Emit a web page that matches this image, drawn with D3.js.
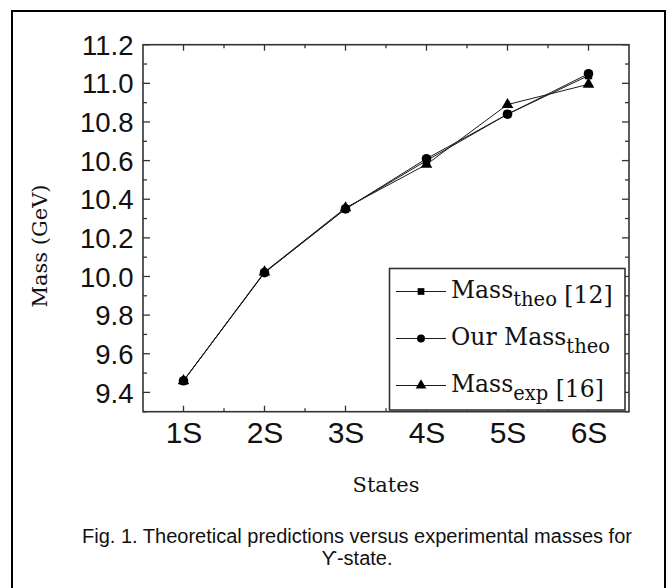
<!DOCTYPE html>
<html lang="en">
<head>
  <meta charset="UTF-8" />
  <title>Upsilon masses</title>
  <script src="https://cdn.jsdelivr.net/npm/d3@7"></script>
  <style>
    body { margin: 0; background: #fff; }
    svg text { fill: #111; }
  </style>
</head>
<body>
  <div id="chart"></div>
  <script>
    // States and masses (GeV)
    const states = ["1S", "2S", "3S", "4S", "5S", "6S"];
    const massTheo12 = [9.46, 10.02, 10.35, 10.60, 10.84, 11.04];
    const ourMassTheo = [9.46, 10.02, 10.35, 10.61, 10.84, 11.05];
    const massExp16 = [9.46, 10.023, 10.355, 10.58, 10.89, 10.995];
    const yTicks = [9.4, 9.6, 9.8, 10.0, 10.2, 10.4, 10.6, 10.8, 11.0, 11.2];

    const W = 668, H = 588;
    const svg = d3.select("#chart").append("svg")
      .attr("width", W).attr("height", H);

    // outer figure box
    svg.append("rect")
      .attr("x", 12).attr("y", 11).attr("width", 653).attr("height", 620)
      .attr("fill", "none").attr("stroke", "#000").attr("stroke-width", 2);

    const x = d3.scaleLinear().domain([0.5, 6.5]).range([143, 629]);
    const y = d3.scaleLinear().domain([9.3, 11.2]).range([411.7, 44.7]);
    const [x0, x1] = x.range();
    const [y0, y1] = y.range();

    const g = svg.append("g");

    // ticks on all four sides, pointing inward
    const xMajor = d3.range(1, 7);
    const xMinor = d3.range(1.5, 6, 1);
    const yMinor = d3.range(9.3, 11.2, 0.2).map(v => +v.toFixed(1));
    const tickG = g.append("g").attr("stroke", "#333").attr("stroke-width", 1.3);
    const addX = (vals, len) => vals.forEach(v => {
      tickG.append("line").attr("x1", x(v)).attr("x2", x(v)).attr("y1", y0).attr("y2", y0 - len);
      tickG.append("line").attr("x1", x(v)).attr("x2", x(v)).attr("y1", y1).attr("y2", y1 + len);
    });
    const addY = (vals, len) => vals.forEach(v => {
      tickG.append("line").attr("y1", y(v)).attr("y2", y(v)).attr("x1", x0).attr("x2", x0 + len);
      tickG.append("line").attr("y1", y(v)).attr("y2", y(v)).attr("x1", x1).attr("x2", x1 - len);
    });
    addX(xMajor, 6); addX(xMinor, 3.5);
    addY(yTicks, 7); addY(yMinor, 4);

    // tick labels via d3 axes (lines hidden, we draw our own)
    const xAxis = g.append("g")
      .attr("transform", `translate(0,${y0})`)
      .call(d3.axisBottom(x).tickValues(xMajor).tickFormat(d => states[d - 1]).tickSize(0).tickPadding(0));
    xAxis.select(".domain").remove();
    xAxis.selectAll("text")
      .attr("y", 31).attr("dy", null)
      .style("font-family", "'Liberation Sans', Arial, sans-serif")
      .style("font-size", "30px").attr("fill", "#111");

    const yAxis = g.append("g")
      .attr("transform", `translate(${x0},0)`)
      .call(d3.axisLeft(y).tickValues(yTicks).tickFormat(d3.format(".1f")).tickSize(0).tickPadding(9.5));
    yAxis.select(".domain").remove();
    yAxis.selectAll("text")
      .attr("dy", "0.35em")
      .style("font-family", "'Liberation Sans', Arial, sans-serif")
      .style("font-size", "27.5px").attr("fill", "#111");

    // series
    const series = [
      { name: "theo12", vals: massTheo12, shape: d3.symbolSquare, size: 55 },
      { name: "our", vals: ourMassTheo, shape: d3.symbolCircle, size: 72 },
      { name: "exp16", vals: massExp16, shape: d3.symbolTriangle, size: 58 }
    ];
    const line = d3.line().x((d, i) => x(i + 1)).y(d => y(d));
    series.forEach(s => {
      g.append("path").datum(s.vals)
        .attr("d", line).attr("fill", "none")
        .attr("stroke", "#1a1a1a").attr("stroke-width", 1);
      g.selectAll(null).data(s.vals).join("path")
        .attr("transform", (d, i) => `translate(${x(i + 1)},${y(d)})`)
        .attr("d", d3.symbol().type(s.shape).size(s.size))
        .attr("fill", "#000");
    });

    // frame
    g.append("rect")
      .attr("x", x0).attr("y", y1).attr("width", x1 - x0).attr("height", y0 - y1)
      .attr("fill", "none").attr("stroke", "#333").attr("stroke-width", 1.6);

    // legend
    const lg = svg.append("g");
    lg.append("rect")
      .attr("x", 389.5).attr("y", 268.5).attr("width", 235.5).attr("height", 141.5)
      .attr("fill", "#fff").attr("stroke", "#333").attr("stroke-width", 1.6);
    const legendRows = [
      { shape: d3.symbolSquare, size: 45, main: "Mass", sub: "theo", tail: " [12]" },
      { shape: d3.symbolCircle, size: 50, main: "Our Mass", sub: "theo", tail: "" },
      { shape: d3.symbolTriangle, size: 50, main: "Mass", sub: "exp", tail: " [16]" }
    ];
    legendRows.forEach((r, i) => {
      const cy = 291.5 + i * 47;
      lg.append("line").attr("x1", 396).attr("x2", 446).attr("y1", cy).attr("y2", cy)
        .attr("stroke", "#1a1a1a").attr("stroke-width", 1);
      lg.append("path").attr("transform", `translate(421,${cy})`)
        .attr("d", d3.symbol().type(r.shape).size(r.size)).attr("fill", "#000");
      const t = lg.append("text").attr("x", 451).attr("y", cy + 6)
        .style("font-family", "'DejaVu Serif', serif").style("font-size", "23.5px").attr("fill", "#1a1a2e");
      t.append("tspan").text(r.main);
      t.append("tspan").attr("dy", 8).style("font-size", "19.5px").text(r.sub);
      if (r.tail) t.append("tspan").attr("dy", -3).text(r.tail);
    });

    // axis titles
    svg.append("text")
      .attr("x", 386).attr("y", 491.5).attr("text-anchor", "middle")
      .style("font-family", "'DejaVu Serif', serif").style("font-size", "21px")
      .attr("fill", "#1a1a2e").text("States");
    svg.append("text")
      .attr("transform", "translate(47,246) rotate(-90)").attr("text-anchor", "middle")
      .style("font-family", "'DejaVu Serif', serif").style("font-size", "21px")
      .attr("fill", "#2a1a1a").text("Mass (GeV)");

    // caption
    const cap = svg.append("text").attr("text-anchor", "middle")
      .style("font-family", "'Liberation Sans', Arial, sans-serif").style("font-size", "20px");
    cap.append("tspan").attr("x", 357).attr("y", 542.5)
      .text("Fig. 1. Theoretical predictions versus experimental masses for");
    cap.append("tspan").attr("x", 357).attr("y", 565)
      .text("ϒ-state.");
  </script>
</body>
</html>
